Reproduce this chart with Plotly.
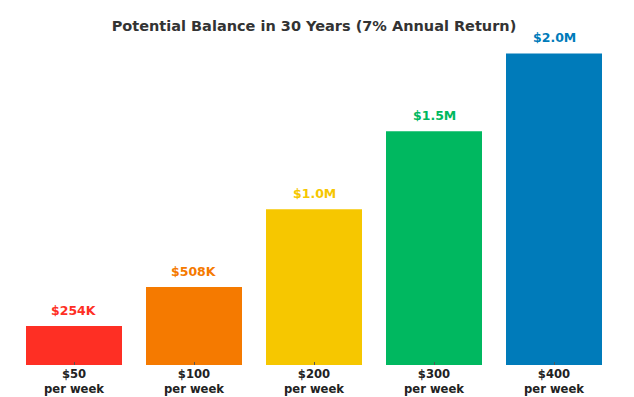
import plotly.graph_objects as go

categories = ["$50", "$100", "$200", "$300", "$400"]
tick_labels = ["$50<br>per week", "$100<br>per week", "$200<br>per week", "$300<br>per week", "$400<br>per week"]
balances_k = [254, 508, 1016, 1524, 2032]
value_labels = ["$254K", "$508K", "$1.0M", "$1.5M", "$2.0M"]
bar_colors = ["#fe2f24", "#f57a00", "#f6c700", "#00b860", "#007bba"]

fig = go.Figure()
fig.add_trace(go.Bar(
    x=categories, y=balances_k,
    marker=dict(color=bar_colors, line=dict(width=0)),
    hoverinfo="skip",
))

for c, v, lab, col in zip(categories, balances_k, value_labels, bar_colors):
    fig.add_annotation(x=c, y=v, text=f"<b>{lab}</b>", showarrow=False,
                       yanchor="bottom", yshift=6,
                       font=dict(family="DejaVu Sans", size=12.5, color=col))

fig.update_layout(
    width=634, height=397,
    margin=dict(l=14, r=20, t=43, b=32, autoexpand=False),
    paper_bgcolor="white", plot_bgcolor="white",
    bargap=0.2,
    showlegend=False,
    title=dict(text="<b>Potential Balance in 30 Years (7% Annual Return)</b>",
               x=0.5, xref="paper", xanchor="center", y=1 - 26/397, yref="container",
               yanchor="middle", automargin=False,
               font=dict(family="DejaVu Sans", size=14.5, color="#333333")),
    font=dict(family="DejaVu Sans"),
)
fig.update_xaxes(tickmode="array", tickvals=categories,
                 ticktext=[f"<b>{t.replace('<br>', '</b><br><b>')}</b>" for t in tick_labels],
                 tickfont=dict(family="DejaVu Sans", size=11.6, color="#222222"),
                 ticks="inside", ticklen=3, tickcolor="#555555", showline=False,
                 showgrid=False, zeroline=False, automargin=False)
fig.update_yaxes(range=[0, 2100], visible=False, showgrid=False, zeroline=False,
                 automargin=False)

fig.write_html("out.html", config={"displayModeBar": False},
               post_script="document.body.style.margin='0';document.body.style.overflow='hidden';")
